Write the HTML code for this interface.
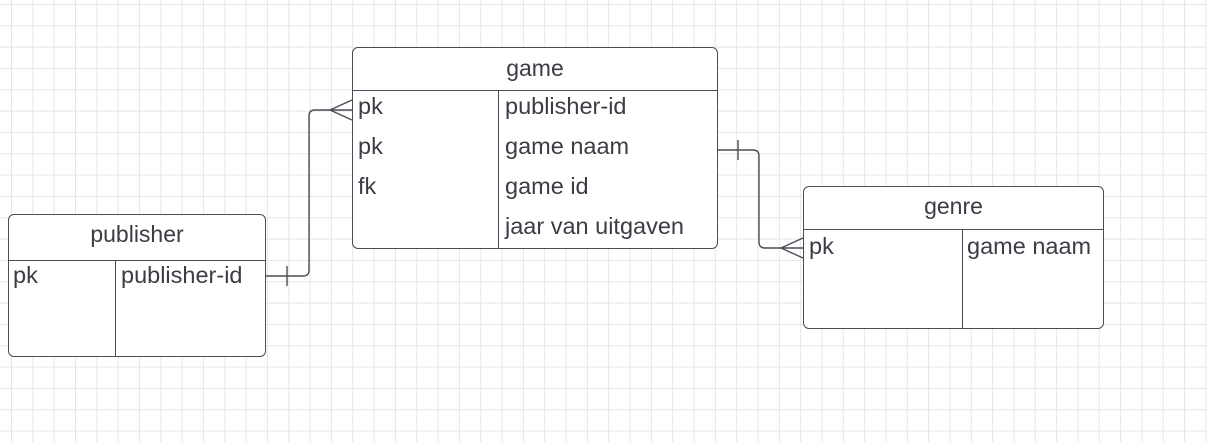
<!DOCTYPE html>
<html><head><style>
html,body{margin:0;padding:0}
body{width:1207px;height:442px;overflow:hidden;background:#fff;
background-image:linear-gradient(#e6e6e6 1px,transparent 1px),linear-gradient(90deg,#e6e6e6 1px,transparent 1px);
background-size:21.33px 21.33px;background-position:11px 4px;position:relative;
font-family:"Liberation Sans",sans-serif;color:#3a3d44}
.b{position:absolute;border:1.3px solid #4a4d55;border-radius:6px;background:#fff;box-sizing:border-box}
.h{position:absolute;left:0;right:0;border-bottom:1.3px solid #4a4d55;text-align:center;font-size:23px}
.d{position:absolute;border-left:1.3px solid #4a4d55;bottom:0}
.t{position:absolute;font-size:23.5px;white-space:nowrap}
</style></head><body>
<svg width="1207" height="442" style="position:absolute;left:0;top:0" fill="none" stroke="#4a4d55" stroke-width="1.4">
<path d="M265 276 H303 Q309 276 309 270 V116 Q309 110 315 110 H352"/>
<path d="M330 110 L352 100 M330 110 L352 120 M287 266 V286"/>
<path d="M717 150 H753 Q759 150 759 156 V242 Q759 248 765 248 H803"/>
<path d="M781 248 L803 238 M781 248 L803 258 M738 140 V160"/>
</svg>
<div class="b" style="left:352px;top:47px;width:366px;height:202px">
<div class="h" style="top:0;height:42px;line-height:40px">game</div>
<div class="d" style="left:145px;top:42px"></div>
<div class="t" style="left:5px;top:45px">pk</div>
<div class="t" style="left:5px;top:85px">pk</div>
<div class="t" style="left:5px;top:125px">fk</div>
<div class="t" style="left:152px;top:45px">publisher-id</div>
<div class="t" style="left:152px;top:85px">game naam</div>
<div class="t" style="left:152px;top:125px">game id</div>
<div class="t" style="left:152px;top:165px">jaar van uitgaven</div>
</div>
<div class="b" style="left:8px;top:214px;width:258px;height:143px">
<div class="h" style="top:0;height:45px;line-height:38px">publisher</div>
<div class="d" style="left:106px;top:45px"></div>
<div class="t" style="left:4px;top:47px">pk</div>
<div class="t" style="left:112px;top:47px">publisher-id</div>
</div>
<div class="b" style="left:803px;top:186px;width:301px;height:143px">
<div class="h" style="top:0;height:42px;line-height:38px">genre</div>
<div class="d" style="left:158px;top:42px"></div>
<div class="t" style="left:5px;top:46px">pk</div>
<div class="t" style="left:163px;top:46px">game naam</div>
</div>
</body></html>
